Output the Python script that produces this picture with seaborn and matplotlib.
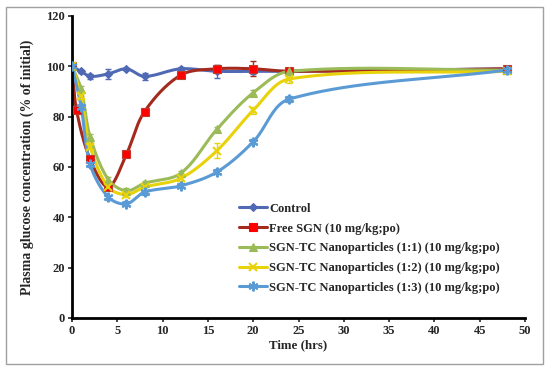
import numpy as np
import pandas as pd
import matplotlib
matplotlib.use("Agg")
import matplotlib.pyplot as plt
import seaborn as sns
from matplotlib.lines import Line2D
from matplotlib.patches import Rectangle

# ---- data ----
t_control = [0, 1, 2, 4, 6, 8, 12, 16, 20, 24, 48]
control = [100, 98, 96, 97, 99, 96, 99, 98, 98, 98, 99]
control_err = [0.5, 0.5, 1, 2, 0.5, 1.5, 0.8, 2.5, 1, 1.5, 0.8]

t_free = [0, 0.5, 2, 4, 6, 8, 12, 16, 20, 24, 48]
free = [100, 82.5, 63, 52, 65, 82, 96.5, 99, 99, 98, 99]
free_err = [0.5, 0.8, 1, 1, 1, 1, 1, 1.5, 3, 1, 0.8]

t_np = [0, 1, 2, 4, 6, 8, 12, 16, 20, 24, 48]
np11 = [100, 91, 72, 55, 50.5, 53.5, 57.5, 75, 89.5, 98, 98.5]
np11_err = [0.5, 1, 1, 1, 1, 1, 1, 1, 1, 1, 0.8]
np12 = [100, 88, 68, 52, 49, 52, 55.5, 66.5, 82.5, 95, 98]
np12_err = [0.5, 1, 1, 1, 1, 1, 1, 3, 1.5, 1.5, 0.8]
np13 = [100, 84, 61, 48, 45.3, 50, 52.5, 58, 70, 87, 98.5]
np13_err = [0.5, 1, 1, 1, 1, 1, 1, 1, 1, 1, 0.8]

labels = ["Control", "Free SGN (10 mg/kg;po)",
          "SGN-TC Nanoparticles (1:1) (10 mg/kg;po)",
          "SGN-TC Nanoparticles (1:2) (10 mg/kg;po)",
          "SGN-TC Nanoparticles (1:3) (10 mg/kg;po)"]
x_ticks = [0, 5, 10, 15, 20, 25, 30, 35, 40, 45, 50]
y_ticks = [0, 20, 40, 60, 80, 100, 120]

series = [
    (t_control, control, control_err, "#5069B4", "#5069B4", "D", 4),
    (t_free, free, free_err, "#A52A1E", "#FF0000", "s", 6),
    (t_np, np11, np11_err, "#9BBB59", "#9BBB59", "^", 6),
    (t_np, np12, np12_err, "#E8D20A", "#E8D20A", "x", 6),
    (t_np, np13, np13_err, "#5B9BD5", "#5B9BD5", (6, 2, 0), 7),
]

sns.set_style("ticks")
plt.rcParams["font.family"] = ["Liberation Serif", "DejaVu Serif"]
plt.rcParams["font.weight"] = "bold"

fig = plt.figure(figsize=(5.5, 3.71), dpi=100)
ax = fig.add_axes([0.131, 0.143, 0.8235, 0.814])
fig.patches.append(Rectangle((0.011, 0.019), 0.976, 0.962, transform=fig.transFigure,
                             fill=False, edgecolor="#A0A0A0", linewidth=1.0))

XMAX, YMAX = 50.0, 120.0
SX, SY = 453.0 / XMAX, 302.0 / YMAX


def smooth(xs, ys, n=40):
    # smoothed line (proportional cardinal bezier) computed in screen-like space
    P = np.column_stack([np.asarray(xs, float) * SX, np.asarray(ys, float) * SY])
    m = len(P)
    out = [P[0]]
    for i in range(m - 1):
        p1, p2 = P[i], P[i + 1]
        d12 = np.linalg.norm(p2 - p1)
        if i > 0:
            p0 = P[i - 1]
            d01 = np.linalg.norm(p1 - p0)
            c1 = p1 + (p2 - p0) * d12 / (d01 + d12) / 3.0
        else:
            c1 = p1 + (p2 - p1) / 3.0
        if i + 2 < m:
            p3 = P[i + 2]
            d23 = np.linalg.norm(p3 - p2)
            c2 = p2 - (p3 - p1) * d12 / (d12 + d23) / 3.0
        else:
            c2 = p2 - (p2 - p1) / 3.0
        s = np.linspace(0, 1, n)[1:, None]
        seg = ((1 - s) ** 3) * p1 + 3 * ((1 - s) ** 2) * s * c1 + 3 * (1 - s) * s ** 2 * c2 + s ** 3 * p2
        out.extend(seg)
    out = np.array(out)
    return out[:, 0] / SX, out[:, 1] / SY


handles = []
for (xs, ys, es, lc, mc, mk, ms), lab in zip(series, labels):
    sx, sy = smooth(xs, ys)
    df = pd.DataFrame({"t": sx, "v": sy})
    sns.lineplot(data=df, x="t", y="v", sort=False, estimator=None, ax=ax,
                 color=lc, linewidth=2.2, zorder=2)
    ax.errorbar(xs, ys, yerr=es, fmt="none", ecolor=lc, elinewidth=1.0,
                capsize=2.5, capthick=1.0, zorder=3)
    mew = 1.5 if mk in ("x", (6, 2, 0)) else 0.8
    ax.plot(xs, ys, linestyle="none", marker=mk, markersize=ms, color=mc,
            markeredgecolor=mc if mk != "s" else "#C0392B", markeredgewidth=mew, zorder=4)
    handles.append(Line2D([], [], color=lc, linewidth=2.2, marker=mk, markersize=ms,
                          markerfacecolor=mc, markeredgecolor=mc, markeredgewidth=mew))

ax.set_xlim(0, XMAX)
ax.set_ylim(0, YMAX)
ax.set_xticks(x_ticks)
ax.set_yticks(y_ticks)
ax.set_xticklabels([str(v) for v in x_ticks], fontsize=9, fontweight="bold")
ax.set_yticklabels([str(v) for v in y_ticks], fontsize=9, fontweight="bold")
ax.set_xlabel("Time (hrs)", fontsize=9.3, fontweight="bold", labelpad=2)
ax.set_ylabel("Plasma glucose concentration (% of initial)", fontsize=10,
              fontweight="bold", labelpad=9)
ax.tick_params(axis="both", direction="out", length=3, width=1.2, pad=2)
for side in ("left", "bottom"):
    ax.spines[side].set_linewidth(2.0)
    ax.spines[side].set_color("black")
ax.spines["top"].set_visible(False)
ax.spines["right"].set_visible(False)

leg = ax.legend(handles, labels, loc="upper left", bbox_to_anchor=(0.358, 0.398),
                frameon=False, prop={"weight": "bold", "size": 9},
                handlelength=2.2, handletextpad=0.2, labelspacing=0.62,
                borderaxespad=0)

fig.savefig("out.png", dpi=100)
